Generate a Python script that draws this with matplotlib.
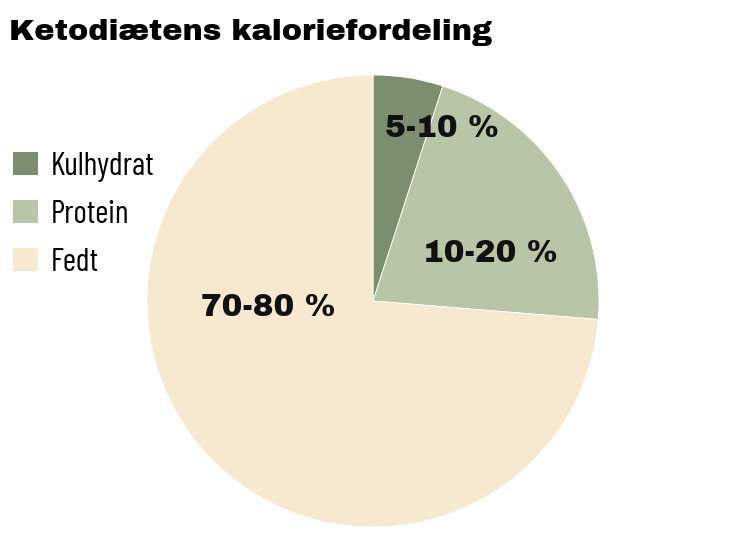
import matplotlib
matplotlib.use('Agg')
from matplotlib import pyplot as plt

categories = ['Kulhydrat', 'Protein', 'Fedt']
shares = [5, 21.3, 73.7]
labels = ['5-10 %', '10-20 %', '70-80 %']
colors = ['#7d8d70', '#b8c6a7', '#f7e8d0']

heavy = ['Archivo Black', 'DejaVu Sans']
narrow = ['Barlow Condensed', 'Roboto Condensed', 'DejaVu Sans']

fig = plt.figure(figsize=(7.29, 5.53), dpi=100)
fig.patch.set_facecolor('white')

fig.text(9/729, 1 - 32/553, 'Ketodiætens kaloriefordeling', fontsize=21.8,
         family=heavy, va='center', ha='left')

ax = fig.add_axes([147/729, 26/553, 452/729, 452/553])
wedges, _ = ax.pie(shares, colors=colors, startangle=90, counterclock=False,
                   wedgeprops=dict(edgecolor='white', linewidth=0.6))
ax.set_xlim(-1, 1)
ax.set_ylim(-1, 1)
ax.set_aspect('equal')

# label spots inside the wedges (radius 1 units)
spots = [(0.305, 0.765), (0.518, 0.212), (-0.465, -0.027)]
for (x, y), lab in zip(spots, labels):
    ax.text(x, y, lab, fontsize=22.4, family=heavy,
            ha='center', va='center', color='#111111')

leg = fig.legend(wedges, categories, loc='upper left',
                 bbox_to_anchor=(-16/729, 1 - 123/553), frameon=False,
                 handlelength=0.8, handleheight=0.75, handletextpad=0.4,
                 labelspacing=0.56,
                 prop=dict(family=narrow, size=23))
for h in leg.legend_handles:
    h.set_edgecolor('none')

fig.savefig('out.png', dpi=100)
